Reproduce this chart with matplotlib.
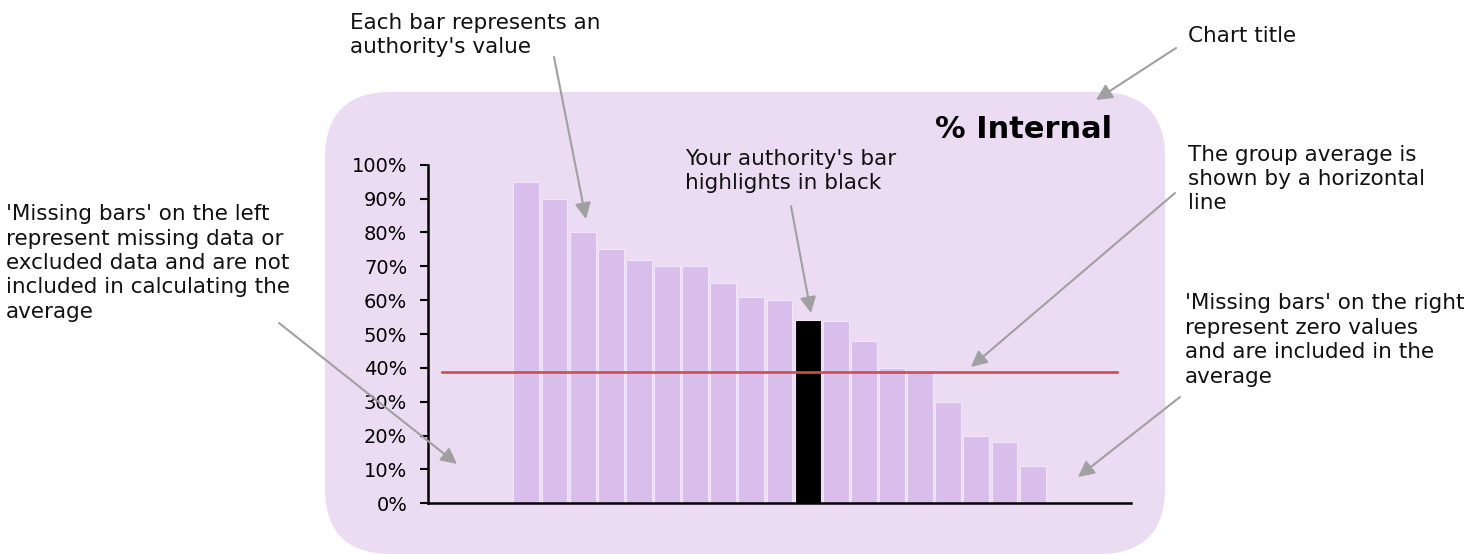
import matplotlib.pyplot as plt
from matplotlib.patches import FancyBboxPatch
from matplotlib.ticker import PercentFormatter

# values (fractions), sorted high to low
values = [0.95, 0.90, 0.80, 0.75, 0.72, 0.70, 0.70, 0.65, 0.61, 0.60,
          0.54, 0.538, 0.48, 0.40, 0.39, 0.30, 0.20, 0.18, 0.11]
n_missing_left = 3
n_missing_right = 3
highlight = 10          # index of "your authority"
group_average = 0.389
title = '% Internal'
yticks = [i / 10 for i in range(11)]

notes = [
    ("Each bar represents an\nauthority's value", 350, 35),
    ("Your authority's bar\nhighlights in black", 685, 171),
    ("'Missing bars' on the left\nrepresent missing data or\nexcluded data and are not\n"
     "included in calculating the\naverage", 6, 263),
    ("Chart title", 1188, 36),
    ("The group average is\nshown by a horizontal\nline", 1188, 179),
    ("'Missing bars' on the right\nrepresent zero values\nand are included in the\naverage", 1185, 340),
]
# arrows: (start, tip) in pixels
arrows = [
    ((554, 57), (586, 219)),
    ((791, 206), (811, 313)),
    ((279, 323), (457, 464)),
    ((1176, 48), (1096, 100)),
    ((1175, 193), (971, 367)),
    ((1180, 397), (1078, 477)),
]

W, H = 1477, 554
bg_col = '#EBDBF3'
bar_col = '#D9BDEA'
arrow_col = '#A0A0A0'

fig = plt.figure(figsize=(W / 100, H / 100), dpi=100)

# background layer in pixel coordinates
bg = fig.add_axes([0, 0, 1, 1], zorder=0)
bg.set_xlim(0, W)
bg.set_ylim(H, 0)
bg.axis('off')
bg.add_patch(FancyBboxPatch((325, 92), 840, 462,
                            boxstyle='round,pad=0,rounding_size=66',
                            fc=bg_col, ec='none'))

# chart
ax = fig.add_axes([428 / W, 1 - 503.3 / H, 703 / W, 338.6 / H], zorder=1)
ax.patch.set_alpha(0)
n_slots = n_missing_left + len(values) + n_missing_right
xs = [n_missing_left + i + 0.5 for i in range(len(values))]
colors = [('black' if i == highlight else bar_col) for i in range(len(values))]
ax.bar(xs, values, width=0.92, color=colors, edgecolor='#F1E6F7', linewidth=0.8)
ax.plot([0.5, n_slots - 0.5], [group_average, group_average], color='#C9504C', lw=1.9)
ax.set_xlim(0, n_slots)
ax.set_ylim(0, 1)
ax.set_yticks(yticks)
ax.yaxis.set_major_formatter(PercentFormatter(1.0, decimals=0))
ax.set_xticks([])
for s in ['top', 'right']:
    ax.spines[s].set_visible(False)
ax.spines['left'].set_linewidth(1.8)
ax.spines['bottom'].set_linewidth(1.8)
ax.tick_params(axis='y', length=6, width=1.5, pad=9, labelsize=14)

# overlay for notes and arrows
ov = fig.add_axes([0, 0, 1, 1], zorder=2)
ov.set_xlim(0, W)
ov.set_ylim(H, 0)
ov.axis('off')
ov.patch.set_alpha(0)

ov.text(1112, 130, title, ha='right', va='center', fontsize=22, fontweight='bold')
for txt, x, y in notes:
    ov.text(x, y, txt, ha='left', va='center', fontsize=15.5, linespacing=1.28, color='#111111')
for start, tip in arrows:
    ov.annotate('', xy=tip, xytext=start,
                arrowprops=dict(arrowstyle='-|>', color=arrow_col, lw=1.5,
                                mutation_scale=24, shrinkA=0, shrinkB=0))

fig.savefig('out.png', dpi=100)
